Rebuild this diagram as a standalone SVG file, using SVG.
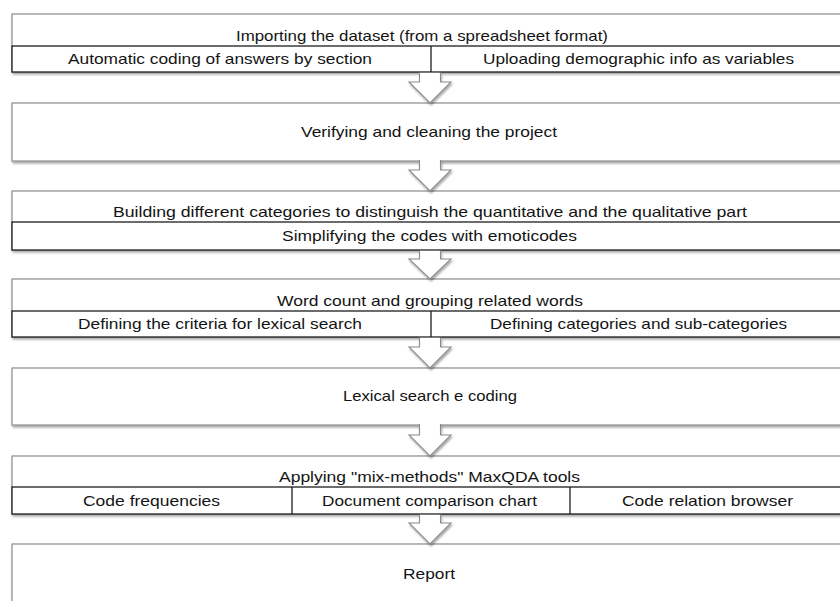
<svg xmlns="http://www.w3.org/2000/svg" width="840" height="601" viewBox="0 0 840 601">
<defs>
<filter id="sh" x="-5%" y="-20%" width="110%" height="160%">
<feDropShadow dx="1" dy="2" stdDeviation="1.2" flood-color="#000" flood-opacity="0.35"/>
</filter>
</defs>
<style>
.outer{fill:#fff;stroke:#8a8a8a;stroke-width:1.2}
.row{fill:#fff;stroke:#1e1e1e;stroke-width:1.3}
.div{stroke:#1e1e1e;stroke-width:1.3}
.arr{fill:#fff;stroke:#8a8a8a;stroke-width:1.1;stroke-linejoin:miter}
text{font-family:"Liberation Sans",Arial,sans-serif;font-size:15px;fill:#141414;text-anchor:middle}
</style>
<rect width="840" height="601" fill="#fff"/>
<g id="n1">
<rect class="outer" x="12" y="14" width="834" height="58" filter="url(#sh)"/>
<text x="422" y="40.5" textLength="372" lengthAdjust="spacingAndGlyphs">Importing the dataset (from a spreadsheet format)</text>
<rect class="row" x="12" y="46" width="834" height="26"/>
<line class="div" x1="431" y1="46" x2="431" y2="72"/>
<text x="220" y="64" textLength="304" lengthAdjust="spacingAndGlyphs">Automatic coding of answers by section</text>
<text x="638.5" y="64" textLength="311" lengthAdjust="spacingAndGlyphs">Uploading demographic info as variables</text>
</g>
<g id="n2">
<rect class="outer" x="12" y="103" width="834" height="58" filter="url(#sh)"/>
<text x="429" y="137" textLength="256" lengthAdjust="spacingAndGlyphs">Verifying and cleaning the project</text>
</g>
<g id="n3">
<rect class="outer" x="12" y="191" width="834" height="59" filter="url(#sh)"/>
<text x="430" y="217" textLength="634" lengthAdjust="spacingAndGlyphs">Building different categories to distinguish the quantitative and the qualitative part</text>
<rect class="row" x="12" y="222" width="834" height="28"/>
<text x="429.5" y="241" textLength="295" lengthAdjust="spacingAndGlyphs">Simplifying the codes with emoticodes</text>
</g>
<g id="n4">
<rect class="outer" x="12" y="279" width="834" height="58" filter="url(#sh)"/>
<text x="430" y="305.5" textLength="306" lengthAdjust="spacingAndGlyphs">Word count and grouping related words</text>
<rect class="row" x="12" y="311" width="834" height="26"/>
<line class="div" x1="431" y1="311" x2="431" y2="337"/>
<text x="220" y="328.5" textLength="284" lengthAdjust="spacingAndGlyphs">Defining the criteria for lexical search</text>
<text x="638.5" y="328.5" textLength="297" lengthAdjust="spacingAndGlyphs">Defining categories and sub-categories</text>
</g>
<g id="n5">
<rect class="outer" x="12" y="368" width="834" height="57" filter="url(#sh)"/>
<text x="430" y="400.5" textLength="174" lengthAdjust="spacingAndGlyphs">Lexical search e coding</text>
</g>
<g id="n6">
<rect class="outer" x="12" y="456" width="834" height="58" filter="url(#sh)"/>
<text x="429.5" y="482" textLength="301" lengthAdjust="spacingAndGlyphs">Applying "mix-methods" MaxQDA tools</text>
<rect class="row" x="12" y="487" width="834" height="27"/>
<line class="div" x1="292" y1="487" x2="292" y2="514"/>
<line class="div" x1="570" y1="487" x2="570" y2="514"/>
<text x="151.5" y="505.5" textLength="137" lengthAdjust="spacingAndGlyphs">Code frequencies</text>
<text x="429.5" y="505.5" textLength="215" lengthAdjust="spacingAndGlyphs">Document comparison chart</text>
<text x="707.5" y="505.5" textLength="171" lengthAdjust="spacingAndGlyphs">Code relation browser</text>
</g>
<g id="n7">
<rect class="outer" x="12" y="544" width="834" height="70" filter="url(#sh)"/>
<text x="429" y="578.5" textLength="52" lengthAdjust="spacingAndGlyphs">Report</text>
</g>
<g id="connectors" filter="url(#sh)">
<path class="arr" d="M419.5,72.7 V82 H409 L430,103 L451,82 H440.5 V72.7"/>
<path class="arr" d="M419.5,160 V170 H409 L430,191 L451,170 H440.5 V160"/>
<path class="arr" d="M419.5,250.7 V259 H409 L430,279 L451,259 H440.5 V250.7"/>
<path class="arr" d="M419.5,337.7 V347 H409 L430,368 L451,347 H440.5 V337.7"/>
<path class="arr" d="M419.5,424 V435 H409 L430,456 L451,435 H440.5 V424"/>
<path class="arr" d="M419.5,514.7 V523 H409 L430,544 L451,523 H440.5 V514.7"/>
</g>
</svg>
